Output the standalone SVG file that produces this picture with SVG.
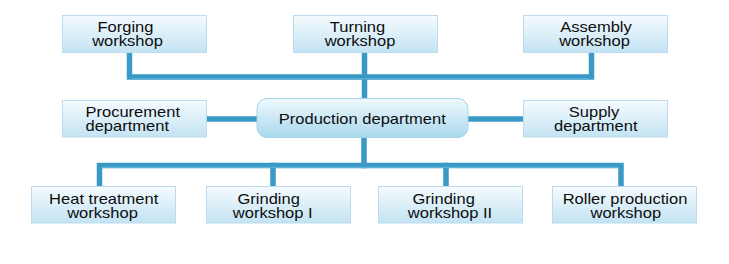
<svg xmlns="http://www.w3.org/2000/svg" width="729" height="264" viewBox="0 0 729 264">
<defs>
<linearGradient id="gBox" x1="0" y1="0" x2="0" y2="1">
<stop offset="0" stop-color="#f5fbfe"/>
<stop offset="1" stop-color="#c3e3f3"/>
</linearGradient>
<linearGradient id="gMain" x1="0" y1="0" x2="0" y2="1">
<stop offset="0" stop-color="#eff9fd"/>
<stop offset="1" stop-color="#a9d8ee"/>
</linearGradient>
<style>
.box{fill:url(#gBox);stroke:#bcdcee;stroke-width:1}
.main{fill:url(#gMain);stroke:#a6d3ea;stroke-width:1}
.t{font-family:"Liberation Sans",Arial,sans-serif;font-size:14px;fill:#0d0d0d;text-anchor:middle}
.s{text-anchor:start}
.ln{fill:none;stroke:#3a9ac6;stroke-width:5.5;stroke-linecap:square;stroke-linejoin:miter}
.hl{fill:none;stroke:#5fb1d6;stroke-width:1.2;stroke-linecap:butt}
</style>
</defs>
<rect width="729" height="264" fill="#ffffff"/>
<g id="connectors">
<path class="ln" d="M129.5 54 V77 H591.5 V54"/>
<path class="ln" d="M364.5 54 V97"/>
<path class="ln" d="M208 119 H256"/>
<path class="ln" d="M469 119 H522"/>
<path class="ln" d="M364 139 V165.5"/>
<path class="ln" d="M99.5 185 V165.5 H621 V185"/>
<path class="ln" d="M273 165.5 V185"/>
<path class="ln" d="M446 165.5 V185"/>
<path class="hl" d="M132 78.8 H589"/>
<path class="hl" d="M102 167.3 H618.5"/>
</g>
<g id="forging">
<rect class="box" x="62.5" y="15.5" width="144" height="37"/>
<text class="t" transform="translate(125.5,32) scale(1.18,1)">Forging</text>
<text class="t" transform="translate(127.5,46) scale(1.18,1)">workshop</text>
</g>
<g id="turning">
<rect class="box" x="293.5" y="15.5" width="144" height="37"/>
<text class="t" transform="translate(357.5,32) scale(1.18,1)">Turning</text>
<text class="t" transform="translate(360,46) scale(1.18,1)">workshop</text>
</g>
<g id="assembly">
<rect class="box" x="523.5" y="15.5" width="144" height="37"/>
<text class="t" transform="translate(596,32) scale(1.18,1)">Assembly</text>
<text class="t" transform="translate(594.5,46) scale(1.18,1)">workshop</text>
</g>
<g id="procurement">
<rect class="box" x="62.5" y="100.5" width="144" height="36.5"/>
<text class="t s" transform="translate(85.5,117) scale(1.18,1)">Procurement</text>
<text class="t s" transform="translate(85.5,131) scale(1.18,1)">department</text>
</g>
<g id="production">
<rect class="main" x="257" y="98.5" width="211" height="39" rx="10" ry="10"/>
<text class="t" transform="translate(362.3,123.5) scale(1.18,1)">Production department</text>
</g>
<g id="supply">
<rect class="box" x="523.5" y="100.5" width="144" height="36.5"/>
<text class="t" transform="translate(594,117) scale(1.18,1)">Supply</text>
<text class="t" transform="translate(595.8,131) scale(1.18,1)">department</text>
</g>
<g id="heat">
<rect class="box" x="31.5" y="186.5" width="144" height="36.5"/>
<text class="t" transform="translate(103.7,204.3) scale(1.18,1)">Heat treatment</text>
<text class="t" transform="translate(102.5,218.3) scale(1.18,1)">workshop</text>
</g>
<g id="grinding1">
<rect class="box" x="206.5" y="186.5" width="144" height="36.5"/>
<text class="t" transform="translate(268.7,204.3) scale(1.18,1)">Grinding</text>
<text class="t" transform="translate(272.7,218.3) scale(1.18,1)">workshop I</text>
</g>
<g id="grinding2">
<rect class="box" x="378.5" y="186.5" width="144" height="36.5"/>
<text class="t" transform="translate(443.7,204.3) scale(1.18,1)">Grinding</text>
<text class="t" transform="translate(450,218.3) scale(1.18,1)">workshop II</text>
</g>
<g id="roller">
<rect class="box" x="552.5" y="186.5" width="144" height="36.5"/>
<text class="t" transform="translate(625,204.3) scale(1.18,1)">Roller production</text>
<text class="t" transform="translate(625.8,218.3) scale(1.18,1)">workshop</text>
</g>
</svg>
